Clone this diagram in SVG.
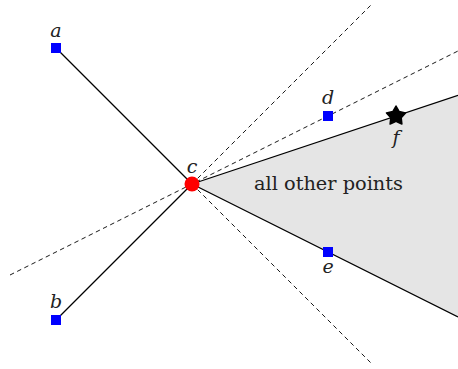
<svg xmlns="http://www.w3.org/2000/svg" width="458" height="369" viewBox="0 0 458 369">
<style>
.solid{stroke:#000;stroke-width:1.3;fill:none}
.dash{stroke:#000;stroke-width:0.9;stroke-dasharray:4.5 3.5;fill:none}
.pt{fill:#0000ff}
.lbl{font-family:"DejaVu Serif",serif;font-style:italic;font-size:19px;fill:#222;text-anchor:middle}
.txt{font-family:"DejaVu Serif",serif;font-size:18px;fill:#222;text-anchor:middle}
</style>
<g id="region">
<polygon points="192,184 458,95.3 458,317" fill="#e5e5e5"/>
<text class="txt" x="328.5" y="190" textLength="149" lengthAdjust="spacingAndGlyphs">all other points</text>
</g>
<g id="connectors">
<line class="dash" x1="192" y1="184" x2="372" y2="4"/>
<line class="dash" x1="192" y1="184" x2="372" y2="364"/>
<line class="dash" x1="10" y1="275" x2="458" y2="51"/>
<line class="solid" x1="56" y1="48" x2="192" y2="184"/>
<line class="solid" x1="56" y1="320" x2="192" y2="184"/>
<line class="solid" x1="192" y1="184" x2="458" y2="95.3"/>
<line class="solid" x1="192" y1="184" x2="458" y2="317"/>
</g>
<g id="a"><rect class="pt" x="51" y="43" width="10" height="10"/><text class="lbl" x="56" y="37">a</text></g>
<g id="b"><rect class="pt" x="51" y="315" width="10" height="10"/><text class="lbl" x="56" y="308">b</text></g>
<g id="d"><rect class="pt" x="323" y="111" width="10" height="10"/><text class="lbl" x="328" y="104">d</text></g>
<g id="e"><rect class="pt" x="323" y="247" width="10" height="10"/><text class="lbl" x="328" y="273">e</text></g>
<g id="c"><circle cx="192" cy="184" r="7.5" fill="#ff0000"/><text class="lbl" x="192" y="173">c</text></g>
<g id="f"><polygon points="396,106 399.2,111.6 405.51,112.91 401.2,117.7 401.88,124.09 396,121.4 390.12,124.09 390.8,117.7 386.49,112.91 392.8,111.6" fill="#000" stroke="#000" stroke-width="1.5" stroke-linejoin="round"/><text class="lbl" x="396" y="144">f</text></g>
</svg>
